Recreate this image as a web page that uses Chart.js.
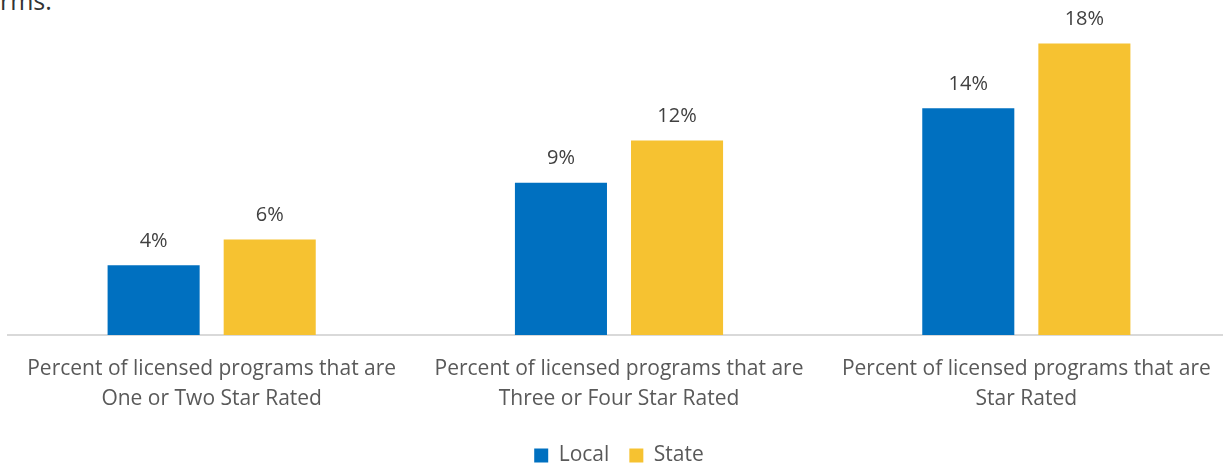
<!DOCTYPE html>
<html lang="en">
<head>
  <meta charset="UTF-8">
  <title>Star Rated Programs</title>
  <script src="https://cdn.jsdelivr.net/npm/chart.js"></script>
  <style>
    html, body { margin: 0; padding: 0; background: #fff; overflow: hidden; }
    #cut { position: absolute; left: 0; top: -17px; font: 25px 'Open Sans', sans-serif; color: #333; }
    #wrap { position: absolute; left: 0; top: 0; width: 1232px; height: 476px; }
  </style>
</head>
<body>
  <div id="cut">rms.</div>
  <div id="wrap"><canvas id="chart"></canvas></div>

  <script>
    const categories = [
      ['Percent of licensed programs that are', 'One or Two Star Rated'],
      ['Percent of licensed programs that are', 'Three or Four Star Rated'],
      ['Percent of licensed programs that are', 'Star Rated']
    ];
    const localValues = [4.3, 9.4, 14.0];
    const stateValues = [5.9, 12.0, 18.0];

    // draws the rounded % above each bar
    const valueLabels = {
      id: 'valueLabels',
      afterDatasetsDraw(chart) {
        const ctx = chart.ctx;
        ctx.save();
        ctx.font = '20px "Open Sans", sans-serif';
        ctx.fillStyle = '#404040';
        ctx.textAlign = 'center';
        ctx.textBaseline = 'bottom';
        chart.data.datasets.forEach((ds, i) => {
          chart.getDatasetMeta(i).data.forEach((bar, j) => {
            ctx.fillText(Math.round(ds.data[j]) + '%', bar.x, bar.y - 14);
          });
        });
        ctx.restore();
      }
    };

    new Chart(document.getElementById('chart'), {
      type: 'bar',
      data: {
        labels: categories,
        datasets: [
          { label: 'Local', data: localValues, backgroundColor: '#0070c0' },
          { label: 'State', data: stateValues, backgroundColor: '#f6c231' }
        ]
      },
      options: {
        responsive: true,
        maintainAspectRatio: false,
        animation: false,
        categoryPercentage: 0.57,
        barPercentage: 0.793,
        layout: { padding: { left: 8, right: 2, top: 11, bottom: 0 } },
        scales: {
          x: {
            grid: { display: false },
            border: { color: '#d9d9d9', width: 2 },
            ticks: {
              color: '#595959', font: { family: 'Open Sans', size: 21, lineHeight: 1.43 },
              padding: 11, maxRotation: 0
            }
          },
          y: { display: false, min: 0, max: 20 }
        },
        plugins: {
          tooltip: { enabled: false },
          legend: {
            position: 'bottom',
            labels: {
              boxWidth: 14, boxHeight: 14, padding: 20,
              color: '#595959', font: { family: 'Open Sans', size: 21 }
            }
          }
        }
      },
      plugins: [valueLabels]
    });
  </script>
</body>
</html>
